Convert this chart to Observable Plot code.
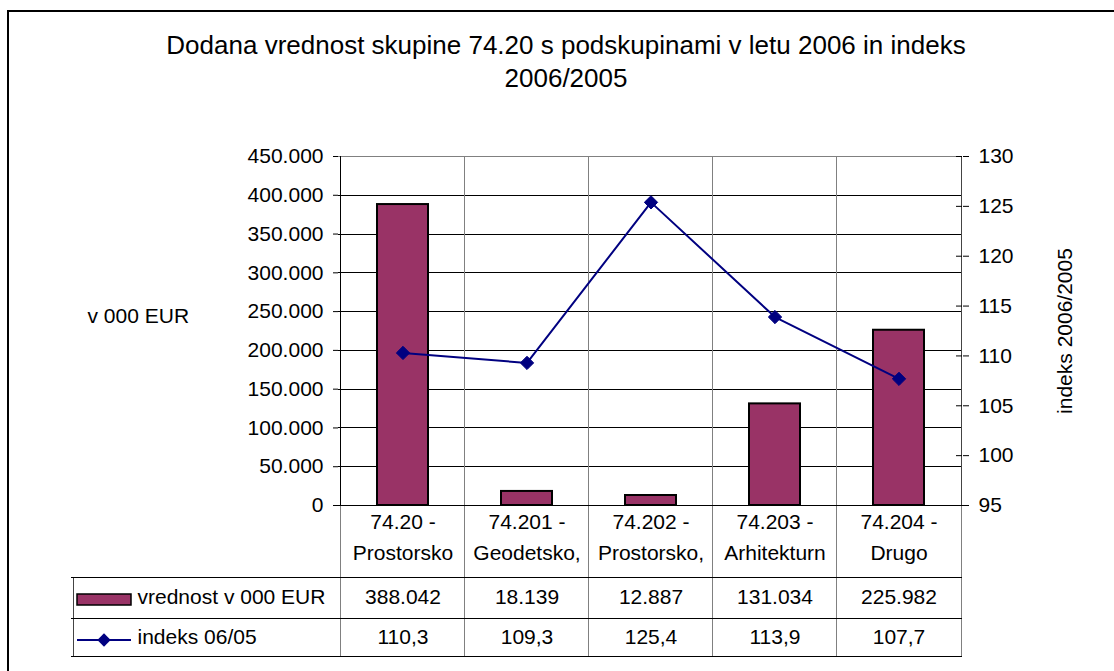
<!DOCTYPE html>
<html><head><meta charset="utf-8">
<script src="https://cdn.jsdelivr.net/npm/d3@7"></script>
<script src="https://cdn.jsdelivr.net/npm/@observablehq/plot@0.6"></script>
<style>
html,body{margin:0;padding:0;background:#fff;overflow:hidden;width:1114px;height:671px;}
#wrap{position:relative;width:1114px;height:671px;font-family:"Liberation Sans",Arial,sans-serif;overflow:hidden;}
#border{position:absolute;left:7px;top:10px;width:1200px;height:800px;border:2px solid #000;box-sizing:border-box;}
#title{position:absolute;left:0;top:29px;width:1132px;text-align:center;font-size:26px;line-height:33px;color:#000;}
#chart{position:absolute;left:0;top:0;}
</style></head><body>
<div id="wrap"><div id="border"></div><div id="chart"></div><div id="title"><div>Dodana vrednost skupine 74.20 s podskupinami v letu 2006 in indeks</div><div>2006/2005</div></div></div>
<script>
// ---- data ----
const categories = ["74.20 - Prostorsko", "74.201 - Geodetsko,", "74.202 - Prostorsko,", "74.203 - Arhitekturn", "74.204 - Drugo"];
const catLine1 = ["74.20 -", "74.201 -", "74.202 -", "74.203 -", "74.204 -"];
const catLine2 = ["Prostorsko", "Geodetsko,", "Prostorsko,", "Arhitekturn", "Drugo"];
const values = [388042, 18139, 12887, 131034, 225982];
const indexValues = [110.3, 109.3, 125.4, 113.9, 107.7];
const seriesNames = ["vrednost v 000 EUR", "indeks 06/05"];
const leftTicks = [0, 50000, 100000, 150000, 200000, 250000, 300000, 350000, 400000, 450000];
const rightTicks = [95, 100, 105, 110, 115, 120, 125, 130];
const leftTitle = "v 000 EUR";
const rightTitle = "indeks 2006/2005";

// ---- helpers ----
const loc = d3.formatLocale({decimal: ",", thousands: ".", grouping: [3], currency: ["", ""]});
const fmtInt = loc.format(",d");
const fmtDec = loc.format(".1f");
const lMax = leftTicks[leftTicks.length - 1];
const rMin = rightTicks[0], rMax = rightTicks[rightTicks.length - 1];
const toLeft = v => (v - rMin) / (rMax - rMin) * lMax;
const fromLeft = v => rMin + v / lMax * (rMax - rMin);

const rows = categories.map((c, i) => ({c, l1: catLine1[i], l2: catLine2[i], v: values[i], idx: indexValues[i]}));

const W = 1114, H = 671;
const mL = 338, mR = W - 962, mT = 156, mB = H - 505;
const step = (W - mL - mR) / categories.length;
const font = '"Liberation Sans", Arial, sans-serif';

function legendKeys(index, scales, vals, dims) {
  const g = d3.create("svg:g");
  const x0 = dims.marginLeft - 261, x1 = dims.marginLeft - 207;
  const yb = dims.height - dims.marginBottom;
  g.append("rect").attr("x", x0).attr("y", yb + 89).attr("width", x1 - x0).attr("height", 11)
    .attr("fill", "#993366").attr("stroke", "#000").attr("stroke-width", 1.5);
  g.append("line").attr("x1", x0).attr("x2", x1).attr("y1", yb + 135).attr("y2", yb + 135)
    .attr("stroke", "#000080").attr("stroke-width", 2);
  g.append("path").attr("d", d3.symbol(d3.symbolDiamond2, 113)())
    .attr("transform", `translate(${(x0 + x1) / 2},${yb + 135})`).attr("fill", "#000080");
  return g.node();
}

const plot = Plot.plot({
  width: W, height: H,
  marginLeft: mL, marginRight: mR, marginTop: mT, marginBottom: mB,
  style: {fontFamily: font, fontSize: "21px", color: "#000", background: "transparent", overflow: "visible"},
  x: {domain: categories, paddingInner: 0.59, paddingOuter: 0.295, axis: null},
  y: {domain: [0, lMax], axis: null},
  marks: [
    // horizontal gridlines
    Plot.ruleY(leftTicks.slice(1, -1), {stroke: "#000", strokeWidth: 1, shapeRendering: "crispEdges"}),
    Plot.ruleY([lMax], {stroke: "#808080", strokeWidth: 1.5, shapeRendering: "crispEdges"}),
    // vertical category boundaries (extend through data table)
    Plot.ruleX(categories, {x: d => d, dx: -step / 2, insetBottom: -151, stroke: "#808080", strokeWidth: 1.5, shapeRendering: "crispEdges"}),
    Plot.ruleX([categories[categories.length - 1]], {x: d => d, dx: step / 2, insetBottom: -151, stroke: "#808080", strokeWidth: 1.5, shapeRendering: "crispEdges"}),
    // axis lines
    Plot.ruleX([categories[0]], {x: d => d, dx: -step / 2, stroke: "#000", strokeWidth: 1.5, shapeRendering: "crispEdges"}),
    Plot.ruleX([categories[categories.length - 1]], {x: d => d, dx: step / 2, stroke: "#444", strokeWidth: 1.5, shapeRendering: "crispEdges"}),
    // data table left border
    Plot.ruleX([categories[0]], {x: d => d, dx: -step / 2 - 267, insetTop: 421, insetBottom: -151, stroke: "#444", strokeWidth: 1.5, shapeRendering: "crispEdges"}),
    // data table horizontal lines
    Plot.ruleY([0], {dy: 72, insetLeft: -267, stroke: "#000", strokeWidth: 1.5, shapeRendering: "crispEdges"}),
    Plot.ruleY([0], {dy: 113, insetLeft: -267, stroke: "#000", strokeWidth: 1.5, shapeRendering: "crispEdges"}),
    Plot.ruleY([0], {dy: 151, insetLeft: -267, stroke: "#000", strokeWidth: 1.5, shapeRendering: "crispEdges"}),
    // bars
    Plot.barY(rows, {x: "c", y: "v", fill: "#993366", stroke: "#000", strokeWidth: 2}),
    // baseline
    Plot.ruleY([0], {insetLeft: -5, insetRight: -6, stroke: "#000", strokeWidth: 1.5, shapeRendering: "crispEdges"}),
    // index line
    Plot.line(rows, {x: "c", y: d => toLeft(d.idx), stroke: "#000080", strokeWidth: 2}),
    Plot.dot(rows, {x: "c", y: d => toLeft(d.idx), symbol: "diamond2", r: 6, fill: "#000080", stroke: "#000080", strokeWidth: 1}),
    // axes
    Plot.axisY({anchor: "left", ticks: leftTicks, tickSize: 5, tickPadding: 10, tickFormat: fmtInt, label: null, fontSize: 21}),
    Plot.axisY({anchor: "right", ticks: rightTicks.map(toLeft), tickSize: 6, tickPadding: 10, tickFormat: d => String(Math.round(fromLeft(d))), label: null, fontSize: 21}),
    Plot.tickY(rightTicks.map(toLeft), {y: d => d, insetLeft: (W - mL - mR) - 6, stroke: "#000"}),
    // axis titles
    Plot.text([leftTitle], {text: d => d, frameAnchor: "left", dx: -251, dy: -15, textAnchor: "start", fontSize: 21}),
    Plot.text([rightTitle], {text: d => d, frameAnchor: "right", dx: 103, rotate: -90, textAnchor: "middle", fontSize: 21}),
    // data table: category labels
    Plot.text(rows, {x: "c", text: "l1", frameAnchor: "bottom", dy: 23, fontSize: 21}),
    Plot.text(rows, {x: "c", text: "l2", frameAnchor: "bottom", dy: 54, fontSize: 21}),
    // data table: values
    Plot.text(rows, {x: "c", text: d => fmtInt(d.v), frameAnchor: "bottom", dy: 98, fontSize: 21}),
    Plot.text(rows, {x: "c", text: d => fmtDec(d.idx), frameAnchor: "bottom", dy: 138, fontSize: 21}),
    // data table: legend
    Plot.text([seriesNames[0]], {text: d => d, frameAnchor: "bottom-left", dx: -201, dy: 98, textAnchor: "start", fontSize: 21}),
    Plot.text([seriesNames[1]], {text: d => d, frameAnchor: "bottom-left", dx: -201, dy: 138, textAnchor: "start", fontSize: 21}),
    legendKeys
  ]
});
document.getElementById("chart").appendChild(plot);
</script>
</body></html>
